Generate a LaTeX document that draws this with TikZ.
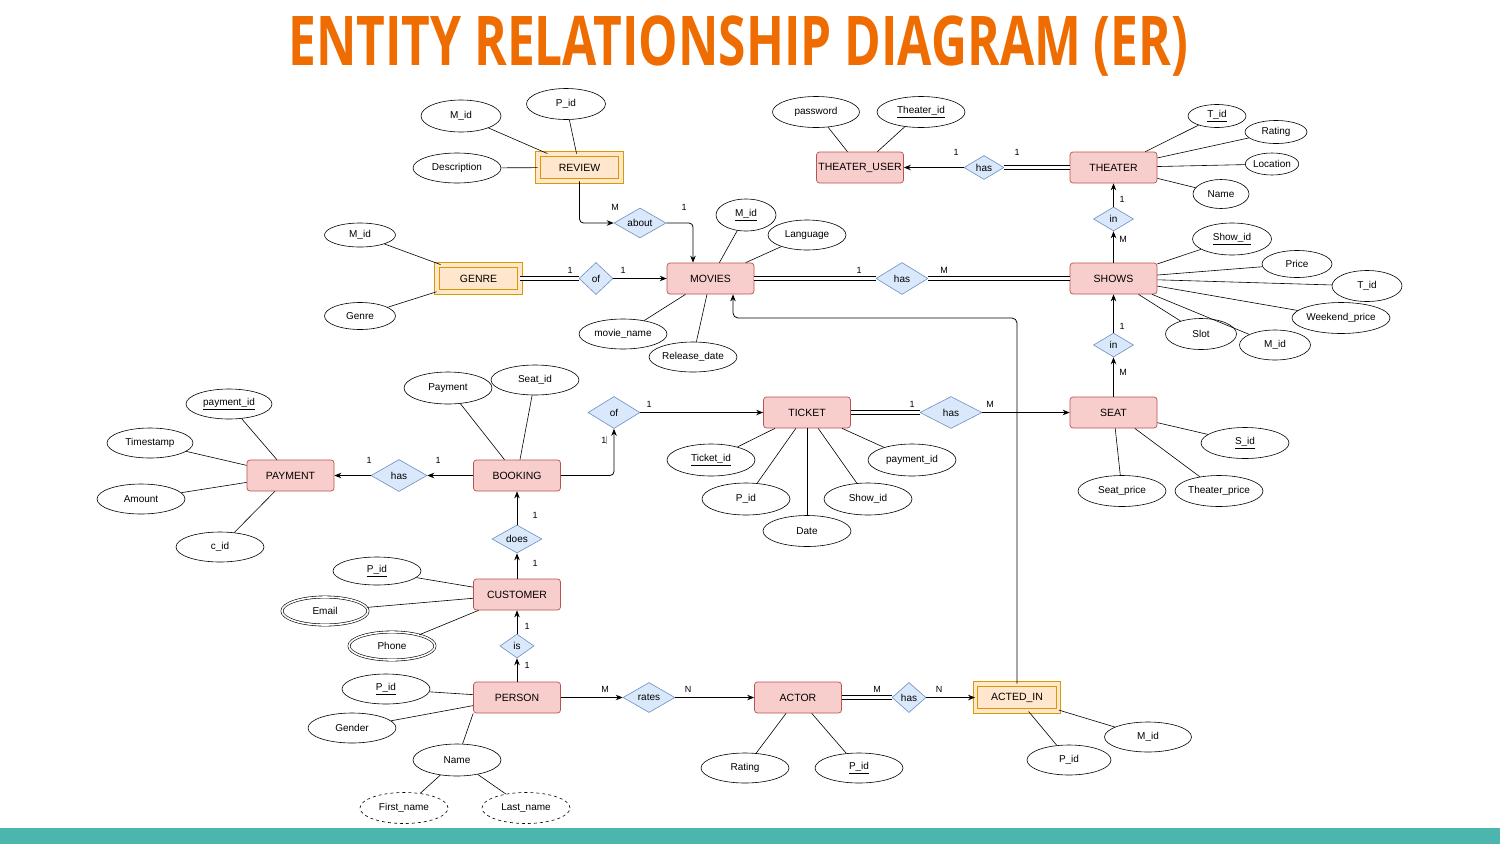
\documentclass[tikz,border=0pt]{standalone}
\usepackage{graphicx}
\usepackage{fontspec}
\setmainfont{Liberation Sans}
\newfontfamily\titlefont{Open Sans}
\usetikzlibrary{shapes.geometric,arrows.meta}
\definecolor{entityfill}{HTML}{F8CECC}
\definecolor{entityline}{HTML}{B85450}
\definecolor{weakfill}{HTML}{FFE6CC}
\definecolor{weakline}{HTML}{D79B00}
\definecolor{relfill}{HTML}{DAE8FC}
\definecolor{relline}{HTML}{6C8EBF}
\definecolor{titleorange}{HTML}{EF6C00}
\definecolor{footerteal}{HTML}{4DB6AC}
\begin{document}
\begin{tikzpicture}[x=1pt, y=-1pt,
        entity/.style={rectangle, rounded corners=3pt, draw=entityline, fill=entityfill, line width=0.7pt, minimum width=87pt, minimum height=31pt, inner sep=0pt, font=\fontsize{10.5}{12}\selectfont},
        weak/.style={rectangle, draw=weakline, fill=weakfill, double=weakfill, double distance=3.6pt, line width=0.9pt, minimum width=83pt, minimum height=27pt, inner sep=0pt, font=\fontsize{10.5}{12}\selectfont},
        rel/.style={diamond, aspect=1.7, draw=relline, fill=relfill, line width=0.6pt, inner sep=0pt, font=\fontsize{10}{12}\selectfont},
        attr/.style={ellipse, draw, line width=0.6pt, minimum width=88pt, minimum height=30pt, inner sep=0pt, font=\fontsize{10}{12}\selectfont},
        multi/.style={attr, double, double distance=1.6pt},
        part/.style={attr, dashed},
        card/.style={inner sep=0pt, font=\fontsize{9}{10}\selectfont},
        link/.style={-{Stealth[length=7pt, width=5.5pt]}, line width=0.8pt},
        twin/.style={double, double distance=3pt, line width=0.8pt},
        attrline/.style={line width=0.6pt}
      ]
      \useasboundingbox (0,0) rectangle (1500,844);
      \fill[white] (0,0) rectangle (1500,844);
      \fill[footerteal] (0,828) rectangle (1500,844);
      \node[anchor=south west, inner sep=0pt, text=titleorange] (title) at (288,66) {\titlefont\bfseries\resizebox{900pt}{49pt}{\raisebox{0pt}[\fontcharht\font`E][0pt]{ENTITY RELATIONSHIP DIAGRAM (ER)}}};
      % entities
      \node[weak] (review) at (579.5,167.5) {REVIEW};
      \node[weak] (genre) at (478.5,278.5) {GENRE};
      \node[entity] (movies) at (710.5,278.5) {MOVIES};
      \node[entity] (theateruser) at (860,167.5) {THEATER\_USER};
      \node[entity] (theater) at (1113.5,167.5) {THEATER};
      \node[entity] (shows) at (1113.5,278.5) {SHOWS};
      \node[entity] (seat) at (1113.5,412.5) {SEAT};
      \node[entity] (ticket) at (807,412.5) {TICKET};
      \node[entity] (booking) at (517,475.5) {BOOKING};
      \node[entity] (payment) at (290.5,475.5) {PAYMENT};
      \node[entity] (customer) at (517,594.5) {CUSTOMER};
      \node[entity] (person) at (517,697.5) {PERSON};
      \node[entity] (actor) at (798,697.5) {ACTOR};
      \node[weak] (actedin) at (1017,697.5) {ACTED\_IN};
      % relationships
      \node[rel, minimum width=52pt, minimum height=30pt] (about) at (640,223) {about};
      \node[rel, minimum width=34pt, minimum height=32pt] (ofgenre) at (596,278.5) {of};
      \node[rel, minimum width=52pt, minimum height=32pt] (hasshow) at (902,278.5) {has};
      \node[rel, minimum width=40pt, minimum height=24pt] (hasuser) at (984,167.5) {has};
      \node[rel, minimum width=40pt, minimum height=24pt] (inthr) at (1113.5,219) {in};
      \node[rel, minimum width=40pt, minimum height=24pt] (inshow) at (1113.5,345) {in};
      \node[rel, minimum width=52pt, minimum height=32pt] (ofticket) at (614,412.5) {of};
      \node[rel, minimum width=62pt, minimum height=32pt] (hasseat) at (951,412.5) {has};
      \node[rel, minimum width=56pt, minimum height=32pt] (haspay) at (399,475.5) {has};
      \node[rel, minimum width=50pt, minimum height=28pt] (does) at (517,539) {does};
      \node[rel, minimum width=34pt, minimum height=24pt] (is) at (517,646) {is};
      \node[rel, minimum width=52pt, minimum height=30pt] (rates) at (649,697.5) {rates};
      \node[rel, minimum width=34pt, minimum height=30pt] (hasacted) at (909,697.5) {has};
      % attributes
      \node[attr, minimum width=80pt, minimum height=32pt] (rvmid) at (461,116) {M\_id};
      \node[attr, minimum width=79pt, minimum height=31pt] (rvpid) at (566,104) {P\_id};
      \node[attr] (rvdesc) at (457,168) {Description};
      \node[attr, minimum width=71pt, minimum height=24pt] (gnmid) at (360,235) {M\_id};
      \node[attr, minimum width=71pt, minimum height=27pt] (gngenre) at (360,316) {Genre};
      \node[attr, minimum width=60pt, minimum height=32pt] (mvmid) at (746,215) {\underline{M\_id}};
      \node[attr, minimum width=78pt] (mvlang) at (807,235) {Language};
      \node[attr] (mvname) at (623,334) {movie\_name};
      \node[attr] (mvdate) at (693,357) {Release\_date};
      \node[attr, minimum width=87pt, minimum height=31pt] (tupass) at (816,112) {password};
      \node[attr, minimum height=31pt] (tuid) at (921,112) {\underline{Theater\_id}};
      \node[attr, minimum width=58pt, minimum height=23pt] (thtid) at (1217,116) {\underline{T\_id}};
      \node[attr, minimum width=62pt, minimum height=23pt] (thrating) at (1276,132) {Rating};
      \node[attr, minimum width=53pt, minimum height=22pt] (thloc) at (1272,164) {Location};
      \node[attr, minimum width=56pt, minimum height=29pt] (thname) at (1221,194) {Name};
      \node[attr, minimum width=79pt, minimum height=32pt] (shid) at (1232,239) {\underline{Show\_id}};
      \node[attr, minimum width=70pt, minimum height=27pt] (shprice) at (1297,264) {Price};
      \node[attr, minimum width=70pt, minimum height=31pt] (shtid) at (1367,286) {T\_id};
      \node[attr, minimum height=31pt] (shweekend) at (1341,318) {Weekend\_price};
      \node[attr, minimum width=71pt, minimum height=31pt] (shslot) at (1201,334) {Slot};
      \node[attr, minimum width=71pt] (shmid) at (1275,345) {M\_id};
      \node[attr, minimum height=31pt] (stsid) at (1245,443) {\underline{S\_id}};
      \node[attr, minimum height=31pt] (stprice) at (1122,491) {Seat\_price};
      \node[attr, minimum height=31pt] (sttheater) at (1219,491) {Theater\_price};
      \node[attr, minimum height=32pt] (tkid) at (711,460) {\underline{Ticket\_id}};
      \node[attr, minimum height=32pt] (tkpid) at (746,499) {P\_id};
      \node[attr, minimum height=31pt] (tkdate) at (807,531) {Date};
      \node[attr, minimum height=32pt] (tkshow) at (868,499) {Show\_id};
      \node[attr, minimum height=32pt] (tkpay) at (912,460) {payment\_id};
      \node[attr, minimum height=32pt] (bkpay) at (448,388) {Payment};
      \node[attr] (bkseat) at (535,380) {Seat\_id};
      \node[attr, minimum width=86pt] (pyid) at (229,404) {\underline{payment\_id}};
      \node[attr, minimum width=86pt] (pytime) at (150,443) {Timestamp};
      \node[attr] (pyamount) at (141,499) {Amount};
      \node[attr] (pycid) at (220,547) {c\_id};
      \node[attr, minimum height=28pt] (cspid) at (377,571) {\underline{P\_id}};
      \node[multi, minimum width=86pt, minimum height=28pt] (csemail) at (325,611) {Email};
      \node[multi, minimum width=86pt, minimum height=28pt] (csphone) at (392,646) {Phone};
      \node[attr] (pspid) at (386,689) {\underline{P\_id}};
      \node[attr] (psgender) at (352,728) {Gender};
      \node[attr, minimum height=32pt] (psname) at (457,760) {Name};
      \node[part, minimum height=31pt] (psfirst) at (404,808) {First\_name};
      \node[part, minimum height=31pt] (pslast) at (526,808) {Last\_name};
      \node[attr] (acrating) at (745,768) {Rating};
      \node[attr] (acpid) at (859,768) {\underline{P\_id}};
      \node[attr, minimum width=84pt] (aipid) at (1069,760) {P\_id};
      \node[attr, minimum width=87pt] (aimid) at (1148,737) {M\_id};
      % cardinalities
      \node[card] (aboutm) at (615,207) {M};
      \node[card] (aboutone) at (684,207) {1};
      \node[card] (ofgenrea) at (570,270) {1};
      \node[card] (ofgenreb) at (623,270) {1};
      \node[card] (hasshowa) at (859,270) {1};
      \node[card] (hasshowm) at (944,270) {M};
      \node[card] (hasusera) at (956,152) {1};
      \node[card] (hasuserb) at (1017,152) {1};
      \node[card] (inthrone) at (1122,199) {1};
      \node[card] (inthrm) at (1123,239) {M};
      \node[card] (inshowone) at (1122,326) {1};
      \node[card] (inshowm) at (1123,372) {M};
      \node[card] (ofticketa) at (649,404) {1};
      \node[card] (ofticketb) at (604,440) {1\textcolor{gray!70}{\rule[-1pt]{0.4pt}{8pt}}};
      \node[card] (hasseatone) at (912,404) {1};
      \node[card] (hasseatm) at (990,404) {M};
      \node[card] (haspaya) at (369,460) {1};
      \node[card] (haspayb) at (438,460) {1};
      \node[card] (doesa) at (535,515) {1};
      \node[card] (doesb) at (535,563) {1};
      \node[card] (isa) at (527,626) {1};
      \node[card] (isb) at (527,665) {1};
      \node[card] (ratesm) at (605,689) {M};
      \node[card] (ratesn) at (688,689) {N};
      \node[card] (hasactedm) at (877,689) {M};
      \node[card] (hasactedn) at (939,689) {N};
      % attribute lines
      \draw[attrline] (review) -- (rvmid);
      \draw[attrline] (review) -- (rvpid);
      \draw[attrline] (review) -- (rvdesc);
      \draw[attrline] (genre) -- (gnmid);
      \draw[attrline] (genre) -- (gngenre);
      \draw[attrline] (movies) -- (mvmid);
      \draw[attrline] (movies) -- (mvlang);
      \draw[attrline] (movies) -- (mvname);
      \draw[attrline] (movies) -- (mvdate);
      \draw[attrline] (theateruser) -- (tupass);
      \draw[attrline] (theateruser) -- (tuid);
      \draw[attrline] (theater) -- (thtid);
      \draw[attrline] (theater) -- (thrating);
      \draw[attrline] (theater) -- (thloc);
      \draw[attrline] (theater) -- (thname);
      \draw[attrline] (shows) -- (shid);
      \draw[attrline] (shows) -- (shprice);
      \draw[attrline] (shows) -- (shtid);
      \draw[attrline] (shows) -- (shweekend);
      \draw[attrline] (shows) -- (shslot);
      \draw[attrline] (shows) -- (shmid);
      \draw[attrline] (seat) -- (stsid);
      \draw[attrline] (seat) -- (stprice);
      \draw[attrline] (seat) -- (sttheater);
      \draw[attrline] (ticket) -- (tkid);
      \draw[attrline] (ticket) -- (tkpid);
      \draw[attrline] (ticket) -- (tkdate);
      \draw[attrline] (ticket) -- (tkshow);
      \draw[attrline] (ticket) -- (tkpay);
      \draw[attrline] (booking) -- (bkpay);
      \draw[attrline] (booking) -- (bkseat);
      \draw[attrline] (payment) -- (pyid);
      \draw[attrline] (payment) -- (pytime);
      \draw[attrline] (payment) -- (pyamount);
      \draw[attrline] (payment) -- (pycid);
      \draw[attrline] (customer) -- (cspid);
      \draw[attrline] (customer) -- (csemail);
      \draw[attrline] (customer) -- (csphone);
      \draw[attrline] (person) -- (pspid);
      \draw[attrline] (person) -- (psgender);
      \draw[attrline] (person.south west) -- (psname);
      \draw[attrline] (psname) -- (psfirst);
      \draw[attrline] (psname) -- (pslast);
      \draw[attrline] (actor) -- (acrating);
      \draw[attrline] (actor) -- (acpid);
      \draw[attrline] (actedin) -- (aipid);
      \draw[attrline] (actedin) -- (aimid);
      % relationship lines
      \draw[link, rounded corners=4pt] (review.south) |- (about.west);
      \draw[link, rounded corners=4pt] (about.east) -| ([xshift=-17.5pt]movies.north);
      \draw[twin] (genre) -- (ofgenre);
      \draw[link] (ofgenre) -- (movies);
      \draw[twin] (movies) -- (hasshow);
      \draw[twin] (hasshow) -- (shows);
      \draw[twin] (theater) -- (hasuser);
      \draw[link] (hasuser) -- (theateruser);
      \draw[link] (shows) -- (inthr);
      \draw[link] (inthr) -- (theater);
      \draw[link] (seat) -- (inshow);
      \draw[link] (inshow) -- (shows);
      \draw[twin] (ticket) -- (hasseat);
      \draw[link] (hasseat) -- (seat);
      \draw[link] (ofticket) -- (ticket);
      \draw[link, rounded corners=4pt] (booking.east) -| (ofticket.south);
      \draw[link] (booking) -- (haspay);
      \draw[link] (haspay) -- (payment);
      \draw[link] (customer) -- (does);
      \draw[link] (does) -- (booking);
      \draw[link] (person) -- (is);
      \draw[link] (is) -- (customer);
      \draw[link] (person) -- (rates);
      \draw[link] (rates) -- (actor);
      \draw[twin] (actor) -- (hasacted);
      \draw[link] (hasacted) -- (actedin);
      \coordinate (loop) at (733,318);
      \draw[link, rounded corners=5pt] (actedin.north) |- (loop) -- (loop |- movies.south);
    \end{tikzpicture}
\end{document}
